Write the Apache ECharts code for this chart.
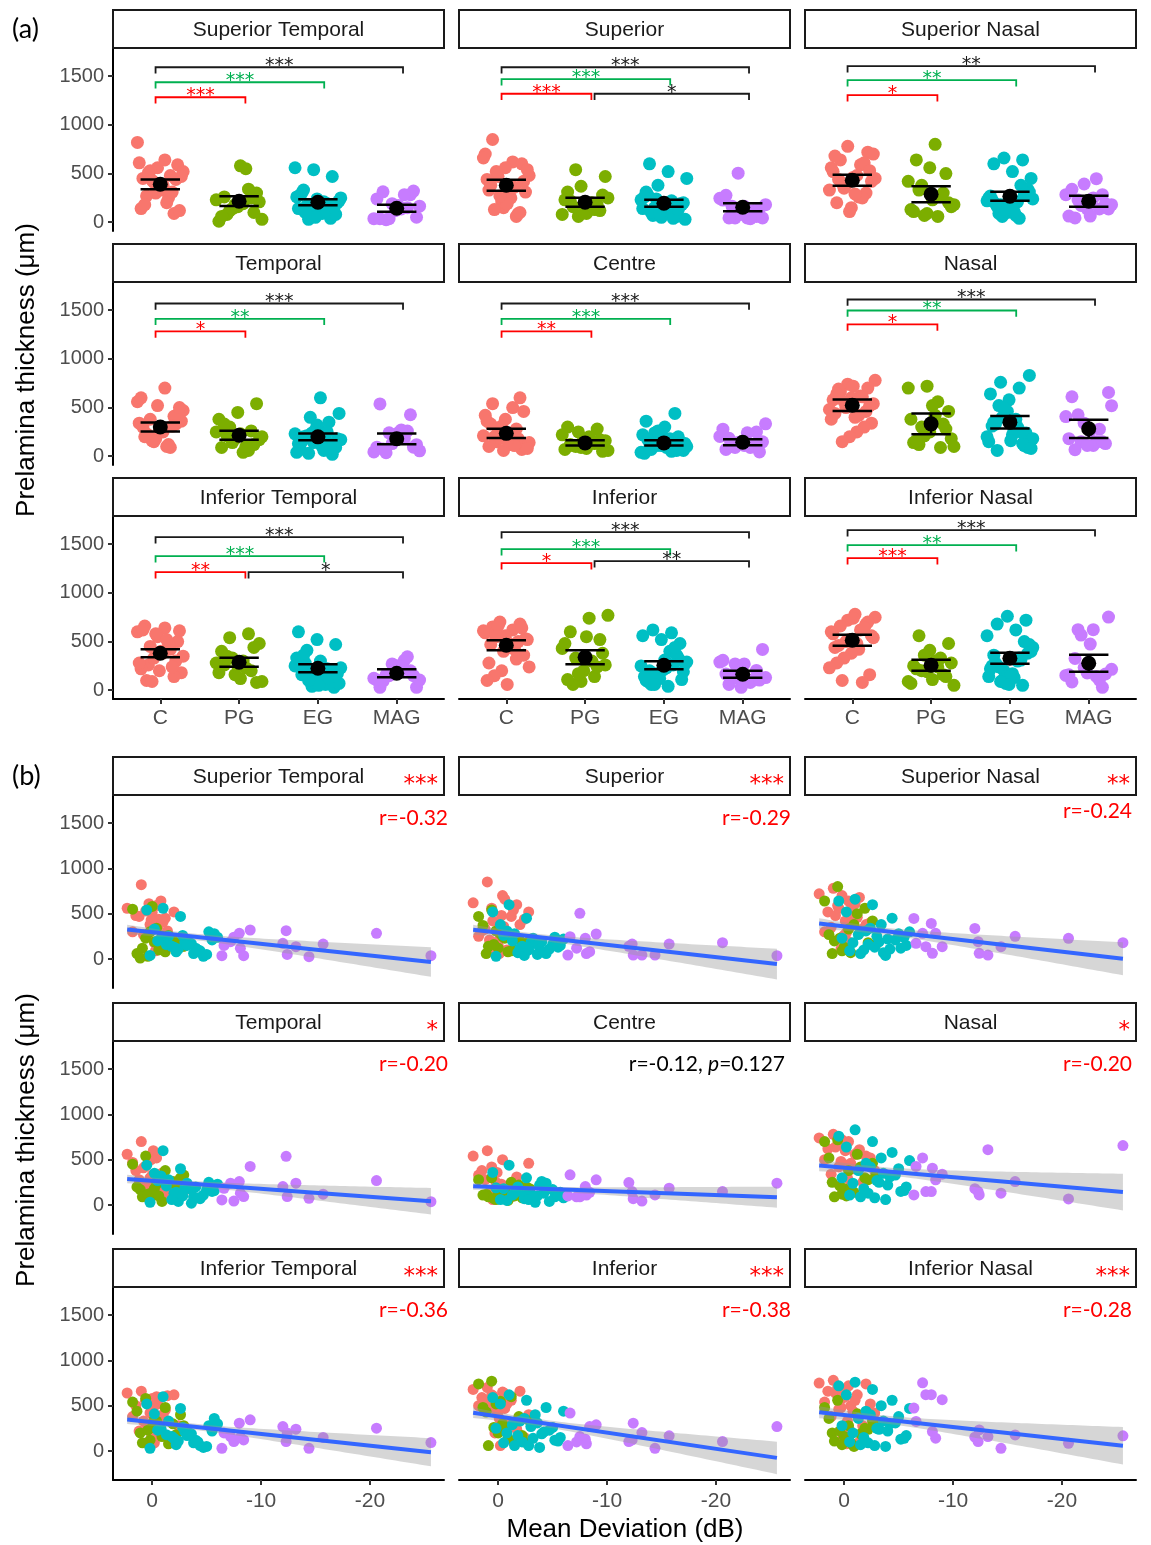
<!DOCTYPE html>
<html><head><meta charset="utf-8">
<script src="https://cdn.jsdelivr.net/npm/echarts@6/dist/echarts.min.js"></script>
<style>html,body{margin:0;padding:0;background:#fff}#c{width:1151px;height:1545px}</style>
</head><body><div id="c"></div>
<script>
// ---------------- data ----------------
const regions = ['Superior Temporal','Superior','Superior Nasal','Temporal','Centre','Nasal','Inferior Temporal','Inferior','Inferior Nasal'];
const groups = ['C','PG','EG','MAG'];
const groupColors = ['#F8766D','#7CAE00','#00BFC4','#C77CFF'];
const yTicks = [0, 500, 1000, 1500];
const mdTicks = [0, -10, -20];
const catTicks = [1, 2, 3, 4];

// mean deviation (dB) per subject
const mdC = [1.0,2.3,-0.4,0.6,1.5,-1.2,0.2,-2.0,1.8,-0.6,0.0,0.5,-2.8,-0.1,1.2,-1.0,-0.3,0.8,-1.7,0.3,-0.5,-2.4,0.1,-1.4,-0.2,-0.8];
const mdPG = [0.6,1.8,-1.2,0.2,-2.6,1.1,-0.4,0.9,-1.9,0.0,1.4,-0.9,-2.9,0.4,-0.2,-1.5,-0.6,-2.2];
const mdEG = [-1.0,0.5,-2.6,-0.2,-4.4,-1.5,-3.4,0.2,-5.2,-2.0,-0.8,-3.8,-1.3,-5.7,-2.4,-0.5,-4.7,-3.0,-1.8,-6.0,-2.2,-3.6,-4.0,-2.8,-5.0,-3.2,-4.2,-5.5];
const mdMAG = [-6.4,-6.6,-7.2,-7.5,-8.0,-8.1,-8.4,-9.0,-12.0,-12.3,-12.4,-13.2,-14.4,-15.7,-20.6,-25.6];

// prelamina thickness (um), one row per region (order of `regions`)
const thkC = [
 [820,560,590,530,480,450,380,520,300,440,510,250,140,330,470,410,90,270,200,610,350,120,430,310,180,640],
 [850,620,700,560,310,470,90,380,250,660,150,420,520,60,330,280,480,210,600,130,360,440,190,540,270,100],
 [780,720,640,590,520,460,700,380,300,440,260,560,150,420,350,610,200,480,330,110,530,400,250,680,290,450],
 [700,560,520,430,380,90,300,250,470,180,330,210,120,600,280,360,150,410,230,100,340,270,500,160,310,200],
 [600,540,500,420,380,90,250,180,330,120,210,60,460,150,280,100,230,140,310,70,200,110,360,160,80,190],
 [780,740,700,660,620,580,720,540,500,460,690,420,380,600,340,560,300,640,250,480,200,520,150,610,440,400],
 [660,640,600,550,500,450,420,620,380,350,580,300,260,480,220,400,180,330,140,100,520,280,200,610,90,240],
 [700,680,650,620,590,560,530,660,500,470,440,610,400,360,550,320,280,480,240,200,640,150,420,100,60,520],
 [780,750,720,700,660,620,580,740,540,500,680,460,420,600,380,560,330,640,280,480,230,520,160,100,80,440]
];
const thkPG = [
 [230,550,80,300,160,10,340,120,210,580,60,250,140,30,190,260,100,180],
 [540,470,90,310,180,60,250,140,220,120,370,80,200,160,280,100,230,130],
 [800,640,500,90,420,60,330,200,560,130,270,380,160,230,110,300,70,180],
 [540,450,380,60,300,170,230,90,260,140,200,40,330,120,180,250,100,210],
 [300,280,250,60,200,120,170,90,220,140,110,50,180,70,130,100,160,80],
 [720,700,560,120,460,250,380,90,300,180,520,140,330,210,100,420,160,280],
 [580,540,480,120,400,200,330,90,300,260,440,160,280,230,350,80,250,180],
 [770,740,600,520,90,430,300,60,380,200,480,140,330,260,550,110,240,170],
 [560,480,410,70,330,200,280,110,250,160,360,50,300,220,140,190,90,240]
];
const thkEG = [
 [560,540,470,330,90,250,180,40,300,130,220,60,160,280,110,200,30,190,140,240,80,170,120,260,50,150,100,210],
 [600,520,450,380,60,280,170,30,240,120,310,90,200,150,40,260,110,180,70,220,140,50,190,100,160,230,80,130],
 [660,640,600,520,450,60,380,230,120,310,180,40,270,150,340,90,210,250,100,300,160,70,220,130,280,190,110,240],
 [600,440,400,350,70,280,180,30,250,130,320,90,210,160,40,270,110,190,60,230,140,20,200,100,170,240,80,150],
 [440,360,300,60,240,130,30,190,90,160,50,220,110,140,70,180,40,120,200,80,150,100,260,60,170,90,130,110],
 [830,760,700,640,580,90,520,300,150,460,240,60,380,200,420,110,330,270,180,490,130,350,220,80,400,250,310,160],
 [600,520,470,410,60,330,200,30,280,140,250,90,180,360,110,230,40,210,160,300,70,190,120,260,50,170,100,220],
 [620,590,560,520,480,60,400,250,120,330,200,40,290,150,360,90,230,270,170,440,100,310,190,60,260,140,210,110],
 [760,720,680,620,560,70,500,280,130,440,200,50,360,170,400,100,310,250,150,470,90,330,220,60,380,240,300,140]
];
const thkMAG = [
 [37,150,191,240,283,118,37,320,173,312,51,136,26,165,283,37],
 [44,246,120,504,228,60,81,276,140,165,44,44,44,165,180,37],
 [448,173,283,136,393,63,283,136,338,191,63,44,136,250,228,180],
 [56,185,241,44,259,130,93,426,204,537,93,241,74,119,270,37],
 [100,333,90,90,204,110,140,278,248,148,70,44,111,185,148,241],
 [111,426,519,148,148,407,278,340,180,148,111,611,130,259,67,656],
 [30,200,159,104,307,150,122,344,270,104,200,241,30,150,252,93],
 [60,419,100,159,130,80,270,289,104,122,307,204,30,167,104,270],
 [474,326,752,622,622,215,141,567,152,104,233,159,30,178,85,167]
];
// group means and 95% CI half-widths, [C, PG, EG, MAG]
const meanThk = [
 [390,216,205,144],[380,205,195,154],[432,288,267,216],
 [300,216,199,179],[235,137,137,144],[524,333,350,282],
 [380,288,226,175],[462,339,257,164],[514,257,329,277]
];
const ciThk = [
 [50,50,30,35],[57,47,35,40],[57,82,46,56],
 [46,46,34,55],[48,27,27,30],[60,106,64,94],
 [42,46,41,41],[52,72,41,36],[57,56,57,87]
];
// significance brackets: [region, group1, group2, height, label]
const sigBrackets = [
 [0,0,1,1284,'***'],[0,0,2,1438,'***'],[0,0,3,1592,'***'],
 [1,0,1,1320,'***'],[1,0,2,1470,'***'],[1,0,3,1592,'***'],[1,1,3,1320,'*'],
 [2,0,1,1305,'*'],[2,0,2,1459,'**'],[2,0,3,1603,'**'],
 [3,0,1,1282,'*'],[3,0,2,1412,'**'],[3,0,3,1569,'***'],
 [4,0,1,1282,'**'],[4,0,2,1412,'***'],[4,0,3,1569,'***'],
 [5,0,1,1354,'*'],[5,0,2,1497,'**'],[5,0,3,1610,'***'],
 [6,0,1,1213,'**'],[6,0,2,1377,'***'],[6,0,3,1572,'***'],[6,1,3,1213,'*'],
 [7,0,1,1305,'*'],[7,0,2,1449,'***'],[7,0,3,1624,'***'],[7,1,3,1326,'**'],
 [8,0,1,1357,'***'],[8,0,2,1490,'**'],[8,0,3,1644,'***']
];
// correlation annotations for panel (b)
const rLabels = ['r=-0.32','r=-0.29','r=-0.24','r=-0.20','r=-0.12, p=0.127','r=-0.20','r=-0.36','r=-0.38','r=-0.28'];
const rSig = ['***','***','**','*','','*','***','***','***'];

// ---------------- layout ----------------
const colLeft = [113, 459, 805];
const panelW = 331;
const stripH = 38;
const aStripTop = [10, 244, 478];
const bStripTop = [757, 1003, 1249];
const aPanelH = 183, bPanelH = 193;
const RED = '#FF0000', GREEN = '#00B050', INK = '#1a1a1a';

const mdAll = [mdC, mdPG, mdEG, mdMAG];
const thkAll = [thkC, thkPG, thkEG, thkMAG];
const jit = (i, n, k) => ((((i * 11) + k * 5) % n) / (n - 1) - 0.5) * 0.58;

const grid = [], xAxis = [], yAxis = [], series = [], graphic = [];
const tickLabel = {color:'#4d4d4d', fontSize:20, fontFamily:'Liberation Sans'};

function fit(xs, ys) {
  const n = xs.length;
  const xb = xs.reduce((a,b)=>a+b,0)/n, yb = ys.reduce((a,b)=>a+b,0)/n;
  let sxx = 0, sxy = 0;
  for (let i=0;i<n;i++){ sxx += (xs[i]-xb)**2; sxy += (xs[i]-xb)*(ys[i]-yb); }
  const b = sxy/sxx, a = yb - b*xb;
  let sse = 0; for (let i=0;i<n;i++) sse += (ys[i]-a-b*xs[i])**2;
  const s = Math.sqrt(sse/(n-2));
  return {a, b, s, n, xb, sxx, xmin: Math.min(...xs), xmax: Math.max(...xs)};
}

for (let k = 0; k < 9; k++) {
  const row = Math.floor(k/3), col = k % 3;
  const bottom = row === 2, left = col === 0;
  // ---------- panel (a) ----------
  const ai = grid.length;
  grid.push({left: colLeft[col], top: aStripTop[row] + stripH, width: panelW, height: aPanelH});
  xAxis.push({gridIndex:ai, type:'value', min:0.4, max:4.6,
    axisLine:{show:bottom, onZero:false, lineStyle:{color:'#000', width:2}},
    axisTick:{show:bottom, customValues:catTicks, length:5, lineStyle:{color:'#333', width:2}},
    axisLabel:{show:bottom, customValues:catTicks, formatter:v=>groups[Math.round(v)-1], margin:9,
      color:'#4d4d4d', fontSize:21, fontFamily:'Liberation Sans'},
    splitLine:{show:false}});
  yAxis.push({gridIndex:ai, type:'value', min:-90, max:1790,
    axisLine:{show:left, onZero:false, lineStyle:{color:'#000', width:2}},
    axisTick:{show:left, customValues:yTicks, length:5, lineStyle:{color:'#333', width:2}},
    axisLabel:{show:left, customValues:yTicks, formatter:v=>String(v), margin:9, ...tickLabel},
    splitLine:{show:false}});
  for (let g = 0; g < 4; g++) {
    const vals = thkAll[g][k];
    series.push({type:'scatter', xAxisIndex:ai, yAxisIndex:ai, silent:true, animation:false,
      symbolSize:13, itemStyle:{color:groupColors[g], opacity:1},
      data: vals.map((v,i)=>[g+1+jit(i, vals.length, k), v])});
  }
  series.push({type:'custom', xAxisIndex:ai, yAxisIndex:ai, silent:true, animation:false, z:5,
    data: groups.map((_,g)=>[g+1, meanThk[k][g], meanThk[k][g]-ciThk[k][g], meanThk[k][g]+ciThk[k][g]]),
    encode:{x:0, y:1},
    renderItem:(params, api) => {
      const x = api.value(0), m = api.value(1), lo = api.value(2), hi = api.value(3);
      const a1 = api.coord([x-0.25, lo]), a2 = api.coord([x+0.25, lo]);
      const b1 = api.coord([x-0.25, hi]), b2 = api.coord([x+0.25, hi]);
      const c = api.coord([x, m]);
      const st = {stroke:'#000', lineWidth:2.5};
      return {type:'group', children:[
        {type:'line', shape:{x1:a1[0],y1:a1[1],x2:a2[0],y2:a2[1]}, style:st},
        {type:'line', shape:{x1:b1[0],y1:b1[1],x2:b2[0],y2:b2[1]}, style:st},
        {type:'line', shape:{x1:c[0],y1:a1[1],x2:c[0],y2:b1[1]}, style:st},
        {type:'circle', shape:{cx:c[0], cy:c[1], r:7.5}, style:{fill:'#000'}}
      ]};
    }});
  const br = sigBrackets.filter(b => b[0] === k);
  series.push({type:'custom', xAxisIndex:ai, yAxisIndex:ai, silent:true, animation:false, z:6,
    data: br.map(b => [b[1]+1, b[3]]), encode:{x:0, y:1},
    renderItem:(params, api) => {
      const b = br[params.dataIndex];
      const g1 = b[1], g2 = b[2], y = b[3], lab = b[4];
      const xs = g1 === 0 ? g1+1-0.06 : g1+1+0.12;
      const xe = g2+1+0.08;
      const color = (g1===0 && g2===1) ? RED : (g1===0 && g2===2) ? GREEN : INK;
      const p1 = api.coord([xs, y-65]), p2 = api.coord([xs, y]), p3 = api.coord([xe, y]), p4 = api.coord([xe, y-65]);
      const mid = api.coord([(xs+xe)/2, y]);
      return {type:'group', children:[
        {type:'polyline', shape:{points:[p1,p2,p3,p4]}, style:{stroke:color, lineWidth:1.8, fill:'none'}},
        {type:'text', x:mid[0], y:mid[1]-1, style:{text:lab, align:'center', verticalAlign:'middle',
          textAlign:'center', textVerticalAlign:'middle', fontSize:19, fontFamily:'DejaVu Sans', fill:color}}
      ]};
    }});

  // ---------- panel (b) ----------
  const bi = grid.length;
  grid.push({left: colLeft[col], top: bStripTop[row] + stripH, width: panelW, height: bPanelH});
  xAxis.push({gridIndex:bi, type:'value', min:-26.8, max:3.6, inverse:true,
    axisLine:{show:bottom, onZero:false, lineStyle:{color:'#000', width:2}},
    axisTick:{show:bottom, customValues:mdTicks, length:5, lineStyle:{color:'#333', width:2}},
    axisLabel:{show:bottom, customValues:mdTicks, formatter:v=>String(v), margin:11,
      color:'#4d4d4d', fontSize:21, fontFamily:'Liberation Sans'},
    splitLine:{show:false}});
  yAxis.push({gridIndex:bi, type:'value', min:-320, max:1810,
    axisLine:{show:left, onZero:false, lineStyle:{color:'#000', width:2}},
    axisTick:{show:left, customValues:yTicks, length:5, lineStyle:{color:'#333', width:2}},
    axisLabel:{show:left, customValues:yTicks, formatter:v=>String(v), margin:9, ...tickLabel},
    splitLine:{show:false}});
  const xsAll = [], ysAll = [];
  for (let g = 0; g < 4; g++) {
    const vals = thkAll[g][k], md = mdAll[g];
    vals.forEach((v,i)=>{ xsAll.push(md[i]); ysAll.push(v); });
    series.push({type:'scatter', xAxisIndex:bi, yAxisIndex:bi, silent:true, animation:false,
      symbolSize:11, itemStyle:{color:groupColors[g], opacity:1},
      data: vals.map((v,i)=>[md[i], v])});
  }
  const f = fit(xsAll, ysAll);
  const tcrit = 1.988;
  const band = [];
  for (let s = 0; s <= 60; s++) {
    const x = f.xmin + (f.xmax - f.xmin) * s / 60;
    const yh = f.a + f.b * x;
    const se = f.s * Math.sqrt(1/f.n + (x - f.xb)**2 / f.sxx);
    band.push([x, yh - tcrit*se, yh + tcrit*se]);
  }
  series.push({type:'custom', xAxisIndex:bi, yAxisIndex:bi, silent:true, animation:false, z:4,
    data:[[0,0]], encode:{x:0, y:1},
    renderItem:(params, api) => {
      const up = band.map(p => api.coord([p[0], p[2]]));
      const lo = band.map(p => api.coord([p[0], p[1]])).reverse();
      return {type:'polygon', shape:{points: up.concat(lo)}, style:{fill:'rgba(153,153,153,0.4)'}};
    }});
  series.push({type:'line', xAxisIndex:bi, yAxisIndex:bi, silent:true, animation:false, z:5,
    symbol:'none', lineStyle:{color:'#3366FF', width:4},
    data:[[f.xmin, f.a + f.b*f.xmin], [f.xmax, f.a + f.b*f.xmax]]});

  // ---------- strips ----------
  [aStripTop[row], bStripTop[row]].forEach((top, which) => {
    graphic.push({type:'rect', shape:{x:colLeft[col], y:top, width:panelW, height:stripH},
      style:{fill:'#fff', stroke:INK, lineWidth:2}, z:10});
    graphic.push({type:'text', x:colLeft[col]+panelW/2, y:top+stripH/2+1, z:11,
      style:{text:regions[k], align:'center', verticalAlign:'middle', textAlign:'center', textVerticalAlign:'middle',
        fontSize:21, fontFamily:'Liberation Sans', fill:INK}});
    if (which === 1 && rSig[k]) {
      graphic.push({type:'text', x:colLeft[col]+panelW-6, y:top+stripH/2+9, z:11,
        style:{text:rSig[k], align:'right', verticalAlign:'middle', textAlign:'right', textVerticalAlign:'middle',
          fontSize:23, fontFamily:'DejaVu Sans', fill:RED}});
    }
  });
  // ---------- r labels ----------
  const rx = colLeft[col] + panelW + (col === 0 ? 4 : (col === 1 ? 1 : -4));
  const ry = bStripTop[row] + stripH + (k === 2 ? 16 : 23);
  if (k === 4) {
    graphic.push({type:'text', x:rx-6, y:ry, z:11,
      style:{text:'{a|r=-0.12, }{b|p}{a|=0.127}', align:'right', verticalAlign:'middle', textAlign:'right', textVerticalAlign:'middle',
        rich:{a:{fontSize:21, fontFamily:'Lato', fill:'#000'}, b:{fontSize:21, fontFamily:'Lato', fontStyle:'italic', fill:'#000'}}}});
  } else {
    graphic.push({type:'text', x:rx, y:ry, z:11,
      style:{text:rLabels[k], align:'right', verticalAlign:'middle', textAlign:'right', textVerticalAlign:'middle',
        fontSize:21, fontFamily:'Lato', fill:RED}});
  }
}

// ---------- titles ----------
const titleFont = {fontSize:26, fontFamily:'Liberation Sans', fill:'#000'};
graphic.push({type:'text', x:12, y:29, style:{text:'(a)', align:'left', verticalAlign:'middle', textAlign:'left', textVerticalAlign:'middle', fontSize:27, fontFamily:'Lato', fill:'#000'}});
graphic.push({type:'text', x:12, y:776, style:{text:'(b)', align:'left', verticalAlign:'middle', textAlign:'left', textVerticalAlign:'middle', fontSize:27, fontFamily:'Lato', fill:'#000'}});
graphic.push({type:'text', x:27, y:370, rotation:Math.PI/2, style:{text:'Prelamina thickness (\u03bcm)', align:'center', verticalAlign:'middle', textAlign:'center', textVerticalAlign:'middle', ...titleFont}});
graphic.push({type:'text', x:27, y:1140, rotation:Math.PI/2, style:{text:'Prelamina thickness (\u03bcm)', align:'center', verticalAlign:'middle', textAlign:'center', textVerticalAlign:'middle', ...titleFont}});
graphic.push({type:'text', x:625, y:1530, style:{text:'Mean Deviation (dB)', align:'center', verticalAlign:'middle', textAlign:'center', textVerticalAlign:'middle', ...titleFont}});

const chart = echarts.init(document.getElementById('c'), null, {renderer:'canvas', width:1151, height:1545});
chart.setOption({
  animation:false,
  backgroundColor:'#fff',
  textStyle:{fontFamily:'Liberation Sans'},
  grid, xAxis, yAxis, series, graphic
});
</script>
</body></html>
